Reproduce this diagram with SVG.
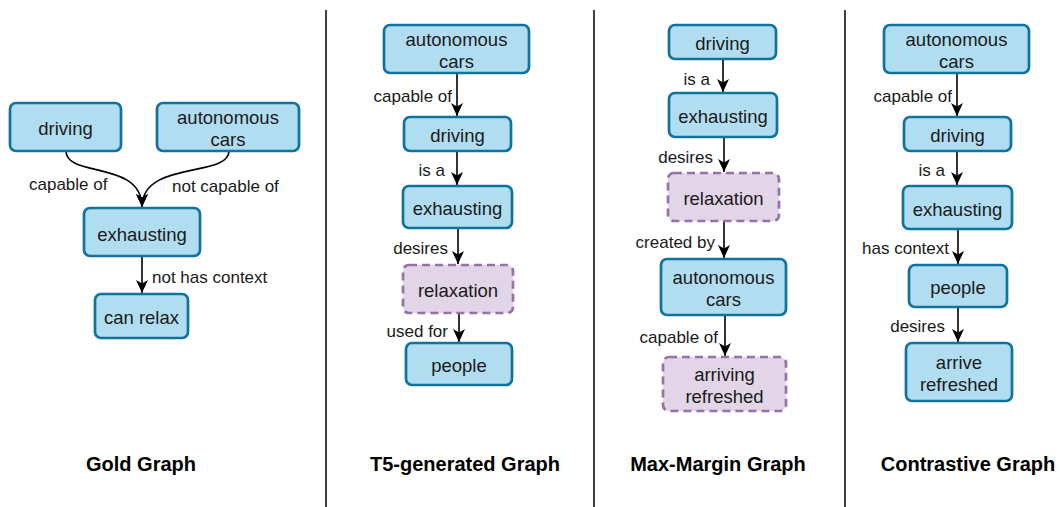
<svg xmlns="http://www.w3.org/2000/svg" width="1060" height="507" viewBox="0 0 1060 507">
<style>
.n{fill:#b1ddf0;stroke:#10739e;stroke-width:2.7}
.p{fill:#e1d5e7;stroke:#9673a6;stroke-width:2.7;stroke-dasharray:8 5}
.t{font-family:"Liberation Sans",Arial,sans-serif;font-size:18.5px;fill:#1a1a1a;text-anchor:middle;dominant-baseline:central}
.l{font-family:"Liberation Sans",Arial,sans-serif;font-size:17px;fill:#1a1a1a;dominant-baseline:central}
.e{fill:none;stroke:#000;stroke-width:1.6}
.h{font-family:"Liberation Sans",Arial,sans-serif;font-size:20px;font-weight:bold;fill:#000;text-anchor:middle;dominant-baseline:central}
.d{stroke:#000;stroke-width:1.5}
</style>
<defs>
<marker id="a" markerUnits="userSpaceOnUse" markerWidth="14" markerHeight="14" refX="13" refY="6" orient="auto" viewBox="0 0 14 12">
<path d="M0,0 L13,6 L0,12 L3.5,6 Z" fill="#000"/>
</marker>
</defs>
<rect width="1060" height="507" fill="#fff"/>
<g id="dividers">
<line class="d" x1="326" y1="10" x2="326" y2="507"/>
<line class="d" x1="594" y1="10" x2="594" y2="507"/>
<line class="d" x1="845" y1="10" x2="845" y2="507"/>
</g>
<g id="connectors">
<path class="e" d="M66,151 C66,178 142,160 142,207" marker-end="url(#a)"/>
<path class="e" d="M229,151 C229,178 142,160 142,207" marker-end="url(#a)"/>
<path class="e" d="M142,256 L142,293" marker-end="url(#a)"/>
<path class="e" d="M457,73 L457,116" marker-end="url(#a)"/>
<path class="e" d="M457,151 L457,185" marker-end="url(#a)"/>
<path class="e" d="M458,228 L458,264" marker-end="url(#a)"/>
<path class="e" d="M459,313 L459,342" marker-end="url(#a)"/>
<path class="e" d="M723,59 L723,92" marker-end="url(#a)"/>
<path class="e" d="M724,137 L724,172" marker-end="url(#a)"/>
<path class="e" d="M724,221 L724,258" marker-end="url(#a)"/>
<path class="e" d="M725,315 L725,356" marker-end="url(#a)"/>
<path class="e" d="M957,73 L957,116" marker-end="url(#a)"/>
<path class="e" d="M957,151 L957,185" marker-end="url(#a)"/>
<path class="e" d="M958,229 L958,264" marker-end="url(#a)"/>
<path class="e" d="M958,307 L958,342" marker-end="url(#a)"/>
<text class="l" x="29" y="184">capable of</text>
<text class="l" x="172" y="186">not capable of</text>
<text class="l" x="152" y="277">not has context</text>
<text class="l" x="452" y="96" text-anchor="end">capable of</text>
<text class="l" x="445" y="170" text-anchor="end">is a</text>
<text class="l" x="448" y="248" text-anchor="end">desires</text>
<text class="l" x="448" y="331" text-anchor="end">used for</text>
<text class="l" x="710" y="79" text-anchor="end">is a</text>
<text class="l" x="713" y="157" text-anchor="end">desires</text>
<text class="l" x="715" y="242" text-anchor="end">created by</text>
<text class="l" x="718" y="337" text-anchor="end">capable of</text>
<text class="l" x="952" y="96" text-anchor="end">capable of</text>
<text class="l" x="945" y="170" text-anchor="end">is a</text>
<text class="l" x="949" y="248" text-anchor="end">has context</text>
<text class="l" x="945" y="326" text-anchor="end">desires</text>
</g>
<g id="gold-driving"><rect class="n" x="10" y="103" width="111" height="48" rx="6"/><text class="t" x="65.5" y="128.5">driving</text></g>
<g id="gold-autonomous-cars"><rect class="n" x="157" y="103" width="142" height="48" rx="6"/><text class="t" x="228" y="117.5">autonomous</text><text class="t" x="228" y="139.5">cars</text></g>
<g id="gold-exhausting"><rect class="n" x="84" y="208" width="116" height="48" rx="6"/><text class="t" x="142" y="234">exhausting</text></g>
<g id="gold-can-relax"><rect class="n" x="95" y="294" width="93" height="44" rx="6"/><text class="t" x="141.5" y="317.5">can relax</text></g>
<g id="t5-autonomous-cars"><rect class="n" x="384" y="25" width="145" height="48" rx="6"/><text class="t" x="456.5" y="39.5">autonomous</text><text class="t" x="456.5" y="61.5">cars</text></g>
<g id="t5-driving"><rect class="n" x="404" y="117" width="107" height="34" rx="6"/><text class="t" x="457.5" y="135.5">driving</text></g>
<g id="t5-exhausting"><rect class="n" x="403" y="186" width="109" height="42" rx="6"/><text class="t" x="457.5" y="208.5">exhausting</text></g>
<g id="t5-relaxation"><rect class="p" x="403" y="265" width="110" height="48" rx="6"/><text class="t" x="458" y="290.5">relaxation</text></g>
<g id="t5-people"><rect class="n" x="406" y="343" width="106" height="42" rx="6"/><text class="t" x="459" y="365.5">people</text></g>
<g id="mm-driving"><rect class="n" x="669" y="25" width="107" height="34" rx="6"/><text class="t" x="722.5" y="43.5">driving</text></g>
<g id="mm-exhausting"><rect class="n" x="669" y="93" width="108" height="44" rx="6"/><text class="t" x="723" y="116.5">exhausting</text></g>
<g id="mm-relaxation"><rect class="p" x="668" y="173" width="111" height="48" rx="6"/><text class="t" x="723.5" y="198.5">relaxation</text></g>
<g id="mm-autonomous-cars"><rect class="n" x="661" y="259" width="125" height="56" rx="6"/><text class="t" x="723.5" y="277.5">autonomous</text><text class="t" x="723.5" y="299.5">cars</text></g>
<g id="mm-arriving-refreshed"><rect class="p" x="663" y="357" width="123" height="54" rx="6"/><text class="t" x="724.5" y="374.5">arriving</text><text class="t" x="724.5" y="396.5">refreshed</text></g>
<g id="c-autonomous-cars"><rect class="n" x="884" y="25" width="145" height="48" rx="6"/><text class="t" x="956.5" y="39.5">autonomous</text><text class="t" x="956.5" y="61.5">cars</text></g>
<g id="c-driving"><rect class="n" x="904" y="117" width="107" height="34" rx="6"/><text class="t" x="957.5" y="135.5">driving</text></g>
<g id="c-exhausting"><rect class="n" x="903" y="186" width="109" height="43" rx="6"/><text class="t" x="957.5" y="209">exhausting</text></g>
<g id="c-people"><rect class="n" x="909" y="265" width="98" height="42" rx="6"/><text class="t" x="958" y="287.5">people</text></g>
<g id="c-arrive-refreshed"><rect class="n" x="906" y="343" width="106" height="58" rx="6"/><text class="t" x="959" y="362.5">arrive</text><text class="t" x="959" y="384.5">refreshed</text></g>
<g id="titles">
<text class="h" x="141" y="464">Gold Graph</text>
<text class="h" x="465" y="464">T5-generated Graph</text>
<text class="h" x="718" y="464">Max-Margin Graph</text>
<text class="h" x="968" y="464">Contrastive Graph</text>
</g>
</svg>
